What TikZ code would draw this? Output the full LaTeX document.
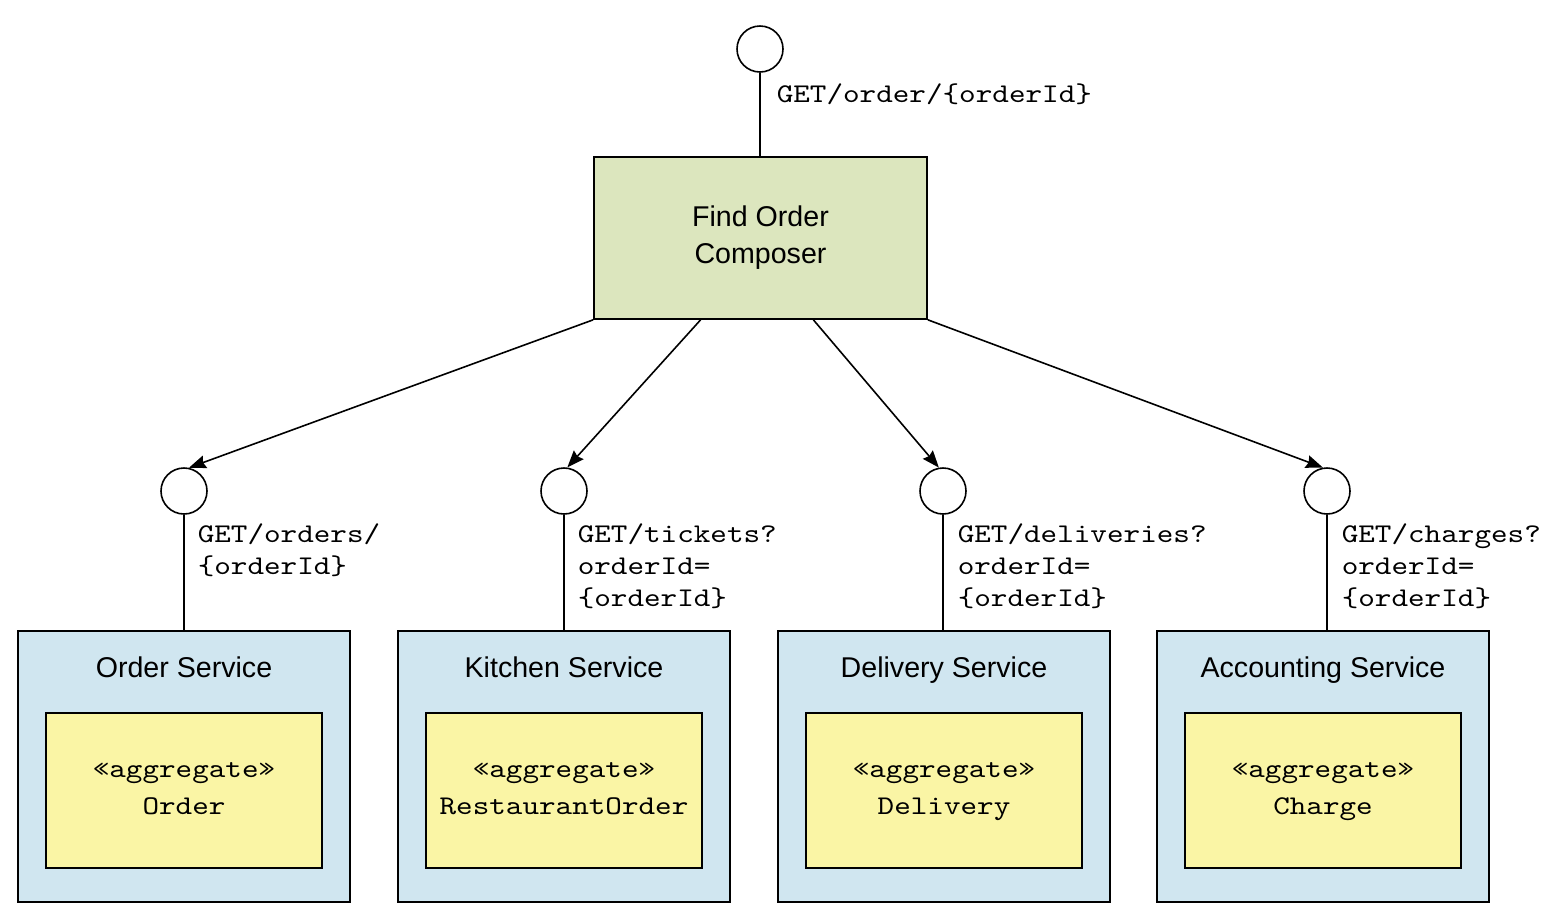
\documentclass[tikz,border=0pt]{standalone}
\usepackage{fontspec}
\setmainfont{Liberation Sans}
\newfontfamily\monof[FakeStretch=1.17]{lmmono10-regular.otf}
\usetikzlibrary{arrows.meta,calc}
\definecolor{compgreen}{HTML}{DCE6BE}
\definecolor{svcblue}{HTML}{D0E6F0}
\definecolor{aggyellow}{HTML}{FAF5A5}
\newcommand\compstrut{\rule[-5.5pt]{0pt}{17.5pt}}
\newcommand\aggstrut{\rule[-6.5pt]{0pt}{18pt}}
\begin{document}
\begin{tikzpicture}[x=0.5pt,y=-0.5pt,line width=0.8pt,
  port/.style={circle,draw,fill=white,minimum size=23pt,inner sep=0pt},
  composer/.style={rectangle,draw,fill=compgreen,minimum width=166.5pt,minimum height=81pt,align=center,
    font=\fontsize{14.3}{18.5}\selectfont},
  svcbox/.style={rectangle,draw,fill=svcblue,minimum width=166pt,minimum height=135.5pt},
  svctitle/.style={anchor=base,inner sep=0pt,font=\fontsize{14.3}{18.5}\selectfont},
  aggbox/.style={rectangle,draw,fill=aggyellow,minimum width=138pt,minimum height=77.5pt,align=center,
    font=\monof\fontsize{13.5}{18.5}\selectfont},
  apilabel/.style={anchor=base west,inner sep=0pt,align=left,font=\monof\fontsize{13.5}{16}\selectfont},
  call/.style={-{Stealth[length=8.5pt,width=6.5pt,inset=1pt]}}
]
\useasboundingbox (0,0) rectangle (1556,918);

% top
\node[port] (ctop) at (760,49) {};
\node[composer] (comp) at (760.5,238) {\compstrut Find Order\\\compstrut Composer};
\draw (ctop.south) -- (ctop.south |- comp.north);
\node[apilabel] (ltop) at (776,102) {GET/order/\{orderId\}};

% ports
\node[port] (c1) at (184,491) {};
\node[port] (c2) at (564,491) {};
\node[port] (c3) at (943,491) {};
\node[port] (c4) at (1327,491) {};

% arrows
\coordinate (b2) at ($(comp.south west)!0.321!(comp.south east)$);
\coordinate (b3) at ($(comp.south west)!0.658!(comp.south east)$);
\draw[call] (comp.south west) -- (c1.78);
\draw[call] (b2) -- (c2.82);
\draw[call] (b3) -- (c3.100);
\draw[call] (comp.south east) -- (c4.100);

% services
\node[svcbox] (s1) at (184,766.5) {};
\node[svcbox] (s2) at (564,766.5) {};
\node[svcbox] (s3) at (944,766.5) {};
\node[svcbox] (s4) at (1323,766.5) {};

\node[svctitle] (t1) at (184,677) {Order Service};
\node[svctitle] (t2) at (564,677) {Kitchen Service};
\node[svctitle] (t3) at (944,677) {Delivery Service};
\node[svctitle] (t4) at (1323,677) {Accounting Service};

\node[aggbox] (a1) at (184,790.5) {\aggstrut«aggregate»\\\aggstrut Order};
\node[aggbox] (a2) at (564,790.5) {\aggstrut«aggregate»\\\aggstrut RestaurantOrder};
\node[aggbox] (a3) at (944,790.5) {\aggstrut«aggregate»\\\aggstrut Delivery};
\node[aggbox] (a4) at (1323,790.5) {\aggstrut«aggregate»\\\aggstrut Charge};

% port to service lines
\draw (c1.south) -- (c1.south |- s1.north);
\draw (c2.south) -- (c2.south |- s2.north);
\draw (c3.south) -- (c3.south |- s3.north);
\draw (c4.south) -- (c4.south |- s4.north);

% labels
\node[apilabel] (l1) at (197,574) {GET/orders/\\\{orderId\}};
\node[apilabel] (l2) at (577,606) {GET/tickets?\\orderId=\\\{orderId\}};
\node[apilabel] (l3) at (957,606) {GET/deliveries?\\orderId=\\\{orderId\}};
\node[apilabel] (l4) at (1341,606) {GET/charges?\\orderId=\\\{orderId\}};
\end{tikzpicture}
\end{document}
